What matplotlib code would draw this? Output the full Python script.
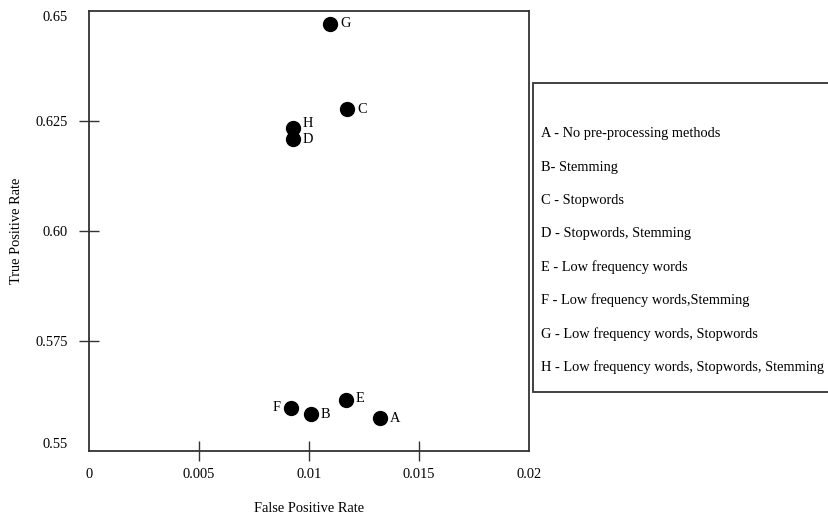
import matplotlib
matplotlib.use("Agg")
import matplotlib.pyplot as plt
from matplotlib.patches import Rectangle

plt.rcParams['font.family'] = ['Liberation Serif', 'DejaVu Serif']
plt.rcParams['font.size'] = 10.4

# pre-processing variants: false positive rate / true positive rate
letters = ['A', 'B', 'C', 'D', 'E', 'F', 'G', 'H']
fpr = [0.01323, 0.01008, 0.01174, 0.00926, 0.01168, 0.00918, 0.01095, 0.00926]
tpr = [0.5576, 0.5585, 0.6277, 0.6210, 0.5616, 0.5597, 0.6471, 0.6233]
descriptions = [
    'A - No pre-processing methods',
    'B- Stemming',
    'C - Stopwords',
    'D - Stopwords, Stemming',
    'E - Low frequency words',
    'F - Low frequency words,Stemming',
    'G - Low frequency words, Stopwords',
    'H - Low frequency words, Stopwords, Stemming',
]
xticks = [0, 0.005, 0.01, 0.015, 0.02]
xtick_labels = ['0', '0.005', '0.01', '0.015', '0.02']
yticks = [0.55, 0.575, 0.60, 0.625, 0.65]
ytick_labels = ['0.55', '0.575', '0.60', '0.625', '0.65']

# label offsets in pixels (F sits on the left of its point)
label_dx = [10, 10, 10, 10, 10, -10, 10, 10]
label_dy = [-1, -1, 0, -1, 1, 1, 0, 5]

fig = plt.figure(figsize=(8.29, 5.16), dpi=100)
ax = fig.add_axes([0.1074, 0.126, 0.5308, 0.8527])

ax.scatter(fpr, tpr, s=100, color='black', zorder=3, clip_on=False)
for i in range(len(letters)):
    ax.annotate(letters[i], (fpr[i], tpr[i]), xytext=(label_dx[i], label_dy[i]),
                textcoords='offset pixels', va='center',
                ha='left' if label_dx[i] > 0 else 'right')

ax.set_xlim(0, 0.02)
ax.set_ylim(0.55, 0.65)
ax.set_xticks(xticks)
ax.set_xticklabels(xtick_labels)
ax.set_yticks(yticks)
ax.set_yticklabels(ytick_labels)
ax.tick_params(direction='inout', length=14.4, width=1, color='#333333')
ax.tick_params(axis='x', pad=5)
ax.tick_params(axis='y', pad=8)

# no tick marks at the ends, only the labels
for t in [ax.xaxis.get_major_ticks()[0], ax.xaxis.get_major_ticks()[-1],
          ax.yaxis.get_major_ticks()[0], ax.yaxis.get_major_ticks()[-1]]:
    t.tick1line.set_visible(False)
ylabels = ax.get_yticklabels()
ylabels[0].set_va('bottom')
ylabels[-1].set_va('top')

for sp in ax.spines.values():
    sp.set_color('#333333')
    sp.set_linewidth(1.3)

ax.set_xlabel('False Positive Rate', labelpad=15)
ax.set_ylabel('True Positive Rate', labelpad=9)

# key box on the right
W, H = 829.0, 516.0
box_left, box_top, box_bottom = 533, 83, 392
fig.patches.append(Rectangle((box_left / W, 1 - box_bottom / H), (W + 20 - box_left) / W,
                             (box_bottom - box_top) / H, transform=fig.transFigure,
                             facecolor='white', edgecolor='#333333', linewidth=1.3))
for i, txt in enumerate(descriptions):
    fig.text(541 / W, 1 - (134 + 33.3 * i) / H, txt, ha='left', va='center')

fig.savefig('out.png', dpi=100)
